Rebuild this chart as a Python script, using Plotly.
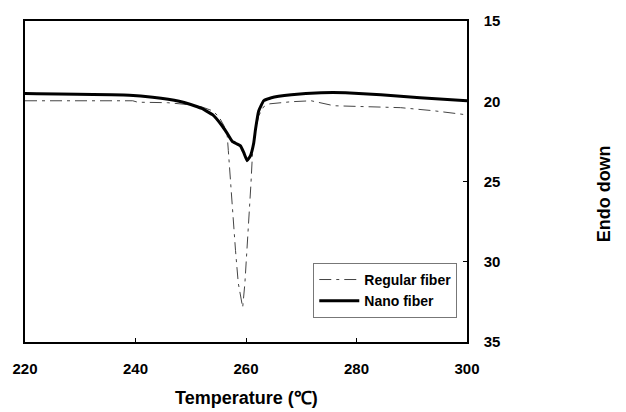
import plotly.graph_objects as go

# DSC melting curves (endotherm plotted downward)
regular_temp = [220.0, 239.5, 240.4, 245.8, 249.9, 251.9, 253.9, 255.1, 256.0, 256.6,
                256.8, 257.2, 257.6, 258.1, 258.6, 259.4, 259.8, 260.2, 260.6, 260.9,
                261.2, 261.7, 262.3, 263.2, 264.3, 268.2, 271.8, 275.9, 288.0, 293.9, 299.8]
regular_heat = [19.97, 19.97, 20.06, 20.09, 20.22, 20.34, 20.59, 20.96, 21.52, 22.14,
                23.07, 25.12, 27.24, 29.29, 31.33, 32.85, 31.33, 29.29, 27.24, 25.12,
                23.07, 21.83, 20.90, 20.34, 20.16, 20.03, 19.97, 20.28, 20.40, 20.59, 20.84]

nano_temp = [220.0, 238.9, 243.1, 247.9, 250.0, 252.0, 254.0, 255.5, 256.6, 257.5,
             258.3, 259.0, 259.6, 260.2, 260.8, 261.4, 261.7, 262.3, 263.2, 264.6,
             268.2, 273.6, 278.0, 284.4, 291.5, 300.0]
nano_heat = [19.52, 19.62, 19.75, 20.00, 20.20, 20.45, 20.85, 21.45, 22.00, 22.50,
             22.65, 22.78, 23.20, 23.70, 23.40, 22.60, 21.80, 20.60, 19.97, 19.78,
             19.60, 19.47, 19.47, 19.60, 19.78, 19.97]

x_ticks = [220, 240, 260, 280, 300]
y_ticks = [15, 20, 25, 30, 35]

bold = dict(family="Liberation Sans, Arial, sans-serif", size=15, color="black", weight="bold")

fig = go.Figure()
fig.add_trace(go.Scatter(
    x=regular_temp, y=regular_heat, name="Regular fiber", mode="lines",
    line=dict(color="#444444", width=1, dash="12px,5px,3px,5px"),
))
fig.add_trace(go.Scatter(
    x=nano_temp, y=nano_heat, name="Nano fiber", mode="lines",
    line=dict(color="black", width=3, shape="spline", smoothing=0.3),
))

fig.update_layout(
    width=626, height=412,
    margin=dict(l=21, r=159, t=20, b=70),
    plot_bgcolor="white", paper_bgcolor="white",
    showlegend=True,
    legend=dict(
        x=0.978, y=0.075, xanchor="right", yanchor="bottom",
        bgcolor="white", bordercolor="#777777", borderwidth=1,
        font=dict(family="Liberation Sans, Arial, sans-serif", size=14, color="black", weight="bold"),
        tracegroupgap=0, itemwidth=40,
    ),
    xaxis=dict(
        range=[220, 300], tickvals=x_ticks, ticks="inside", ticklen=4,
        tickcolor="black", showline=True, linecolor="black", linewidth=1.5,
        mirror=True, showgrid=False, zeroline=False, tickfont=bold,
        ticklabelstandoff=12,
    ),
    yaxis=dict(
        range=[35, 15], tickvals=y_ticks, side="right", ticks="inside", ticklen=4,
        tickcolor="black", showline=True, linecolor="black", linewidth=1.5,
        mirror=True, showgrid=False, zeroline=False, tickfont=bold,
        ticklabelstandoff=12,
    ),
    annotations=[
        dict(text="Temperature (℃)", xref="paper", yref="paper", x=0.5, y=-0.175,
             xanchor="center", yanchor="middle", showarrow=False,
             font=dict(family="Liberation Sans, Arial, sans-serif", size=18, color="black", weight="bold")),
        dict(text="Endo down", xref="paper", yref="paper", x=1.31, y=0.46,
             xanchor="center", yanchor="middle", showarrow=False, textangle=-90,
             font=dict(family="Liberation Sans, Arial, sans-serif", size=18, color="black", weight="bold")),
    ],
)

fig.write_html("out.html")
